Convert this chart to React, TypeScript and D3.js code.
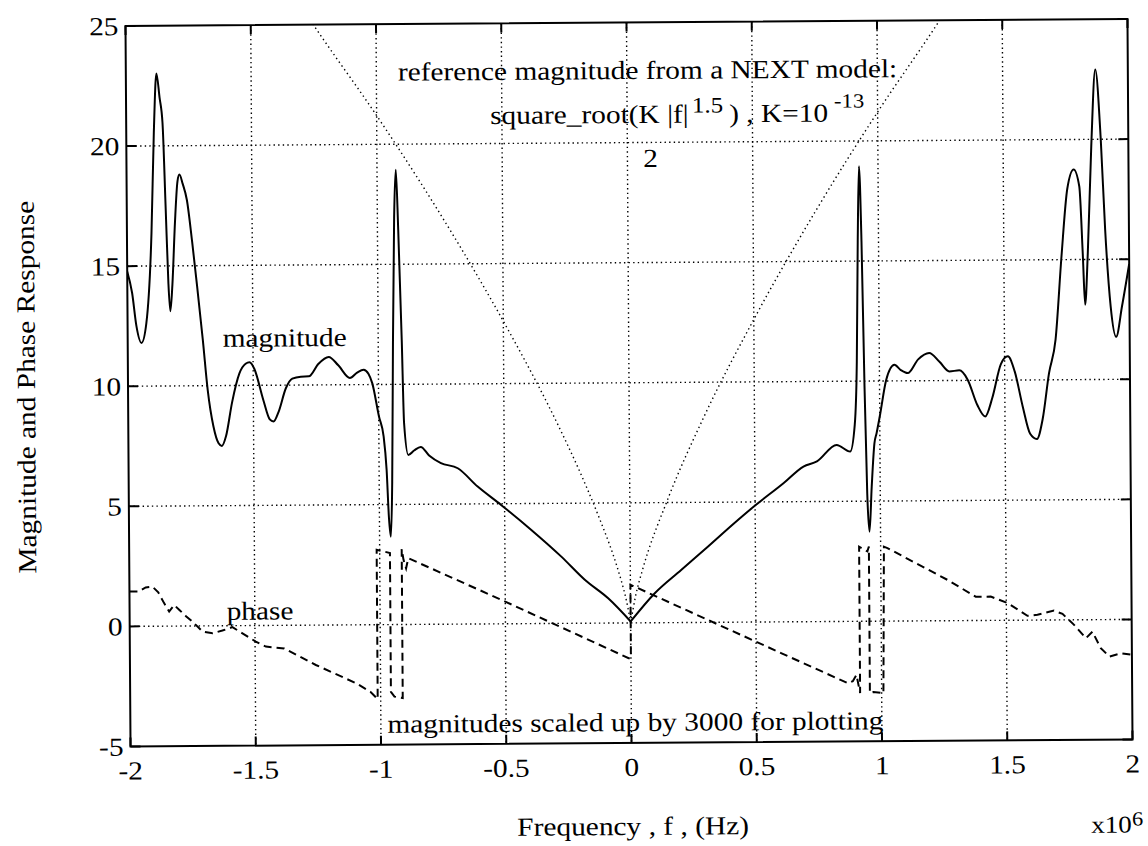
import React from "react";
import * as d3 from "d3";

// frequency axis in units of 1e6 Hz
const magF = [
  -2.0, -1.981, -1.965, -1.945, -1.925, -1.902, -1.89, -1.878, -1.866, -1.855, -1.845, -1.836, -1.829,
  -1.82, -1.808, -1.797, -1.789, -1.776, -1.76, -1.74, -1.72, -1.7, -1.682, -1.66, -1.64, -1.627, -1.61,
  -1.585, -1.555, -1.53, -1.514, -1.495, -1.46, -1.435, -1.42, -1.4, -1.37, -1.344, -1.31, -1.278, -1.24,
  -1.198, -1.16, -1.114, -1.085, -1.059, -1.04, -1.025, -0.999, -0.981, -0.97, -0.962, -0.955, -0.948,
  -0.941, -0.933, -0.925, -0.917, -0.906, -0.899, -0.883, -0.86, -0.833, -0.8, -0.753, -0.686, -0.607,
  -0.514, -0.394, -0.275, -0.182, -0.089, 0.0, 0.097, 0.203, 0.31, 0.416, 0.495, 0.615, 0.694, 0.748,
  0.827, 0.881, 0.9, 0.91, 0.917, 0.924, 0.932, 0.94, 0.948, 0.956, 0.966, 0.978, 0.987, 1.0, 1.027,
  1.06, 1.085, 1.113, 1.155, 1.199, 1.24, 1.279, 1.319, 1.352, 1.39, 1.421, 1.45, 1.485, 1.513, 1.54,
  1.571, 1.6, 1.627, 1.65, 1.677, 1.704, 1.73, 1.755, 1.781, 1.803, 1.815, 1.823, 1.835, 1.852, 1.87,
  1.89, 1.905, 1.925, 1.946, 1.97, 2.0,
];
const magV = [
  14.78, 13.88, 12.52, 11.8, 12.62, 16.38, 20.52, 23.01, 22.01, 20.96, 17.51, 14.31, 13.11,
  14.21, 16.81, 18.51, 18.8, 18.41, 17.75, 16.0, 14.0, 11.9, 9.83, 8.3, 7.6, 7.49, 7.9,
  9.3, 10.5, 10.9, 10.96, 10.68, 9.38, 8.58, 8.49, 8.88, 9.87, 10.27, 10.35, 10.36, 10.87,
  11.16, 10.81, 10.28, 10.5, 10.62, 10.45, 10.06, 8.67, 7.84, 6.45, 4.45, 3.66, 5.94,
  11.84, 16.94, 18.94, 16.44, 11.84, 8.39, 7.06, 7.24, 7.39, 7.03, 6.71, 6.49, 5.72,
  4.95, 3.9, 2.78, 1.81, 1.03, 0.06, 1.23, 2.19, 3.15, 4.12, 4.81, 5.78, 6.46, 6.67,
  7.35, 7.07, 8.18, 10.81, 15.81, 18.95, 15.81, 9.81, 5.31, 3.73, 5.6, 7.4, 7.83, 8.52, 10.05,
  10.67, 10.45, 10.32, 10.89, 11.15, 10.78, 10.38, 10.42, 10.03, 8.97, 8.49, 9.27, 10.67, 10.99, 10.36,
  8.9, 7.76, 7.54, 8.35, 10.28, 11.67, 15.14, 17.95, 18.75, 18.04, 15.24, 13.12, 15.24, 19.74, 22.91,
  19.99, 16.24, 13.03, 11.77, 13.03, 14.8,
];

const phaseF = [
  -2.0, -1.962, -1.935, -1.908, -1.885, -1.862, -1.842, -1.822, -1.8, -1.775, -1.749, -1.709, -1.669,
  -1.63, -1.59, -1.55, -1.497, -1.457, -1.384, -1.258, -1.098, -1.04, -1.012, -1.012, -0.959, -0.959,
  -0.945, -0.912, -0.912, -0.905, -0.895, -0.886, -0.514, -0.009, 0.0, 0.0, 0.6016, 0.867, 0.885, 0.9,
  0.914, 0.914, 0.947, 0.953, 0.953, 0.967, 1.007, 1.013, 1.027, 1.266, 1.378, 1.438, 1.505, 1.584,
  1.624, 1.69, 1.724, 1.77, 1.817, 1.843, 1.876, 1.91, 1.956, 2.0,
];
const phaseV = [
  1.45, 1.45, 1.62, 1.65, 1.41, 0.96, 0.61, 0.88, 0.66, 0.41, 0.18, -0.24, -0.31,
  -0.2, -0.06, -0.32, -0.67, -0.88, -0.96, -1.66, -2.43, -2.8, -3.1, 3.12, 2.98, -2.8,
  -3.0, -3.06, 3.14, 2.69, 2.34, 2.76, 0.99, -1.47, -1.47, 1.59, -1.31, -2.58, -2.49, -2.23,
  -2.99, 3.11, 2.91, 3.11, -2.99, -2.95, -3.0, 3.1, 3.04, 1.7, 0.99, 0.99, 0.72, 0.18,
  0.22, 0.39, 0.25, -0.21, -0.77, -0.5, -1.19, -1.54, -1.41, -1.47,
];

// reference magnitude (NEXT model), one branch per sign of f
const refF = [0, 0.02, 0.05, 0.15, 0.3, 0.5, 0.75, 1.0, 1.25, 1.3];
const refV = [0, 1.1, 2.25, 5.1, 8.6, 12.6, 17.1, 21.2, 25.0, 25.8];

const xTicks = [-2, -1.5, -1, -0.5, 0, 0.5, 1, 1.5, 2];
const xTickLabels = ["-2", "-1.5", "-1", "-0.5", "0", "0.5", "1", "1.5", "2"];
const yTicks = [-5, 0, 5, 10, 15, 20, 25];
const yTickLabels = ["-5", "0", "5", "10", "15", "20", "25"];

const W = 1148;
const H = 846;
const L = 128;
const R = 1130;
const T = 22.5;
const B = 743;
const SX = 1.13;
const FONT = "'Liberation Serif', 'Times New Roman', serif";

const Txt = ({ x, y, size = 26, anchor = "start", children }: any) => (
  <text
    transform={`translate(${x},${y}) scale(${SX},1)`}
    fontSize={size}
    textAnchor={anchor}
    fontFamily={FONT}
    fill="#000"
  >
    {children}
  </text>
);

export default function App() {
  const x = d3.scaleLinear().domain([-2, 2]).range([L, R]);
  const y = d3.scaleLinear().domain([-5, 25]).range([B, T]);

  const magPts = magF.map((f, i) => [f, magV[i]] as [number, number]);
  const magLeft = magPts.filter((p) => p[0] <= 0);
  const magRight = magPts.filter((p) => p[0] >= 0);

  const magLine = d3
    .line<[number, number]>()
    .x((d) => x(d[0]))
    .y((d) => y(d[1]))
    .curve(d3.curveMonotoneX);

  const phaseLine = d3
    .line<number>()
    .x((_, i) => x(phaseF[i]))
    .y((d) => y(d));

  const refRight = d3
    .line<number>()
    .x((_, i) => x(refF[i]))
    .y((d) => y(d))
    .curve(d3.curveMonotoneX);
  const refLeft = d3
    .line<number>()
    .x((_, i) => x(-refF[i]))
    .y((d) => y(d))
    .curve(d3.curveMonotoneY);

  const dots = { stroke: "#000", strokeWidth: 1.4, strokeDasharray: "1.4,3.2", fill: "none" };

  return (
    <svg
      width={W}
      height={H}
      style={{ position: "absolute", left: 0, top: 0, background: "#fff" }}
    >
      <defs>
        <clipPath id="plot">
          <rect x={L} y={T} width={R - L} height={B - T} />
        </clipPath>
      </defs>
      <rect width={W} height={H} fill="#fff" />
      <g transform="rotate(-0.4 629 383)">
        {/* grid */}
        {xTicks.slice(1, -1).map((t) => (
          <line key={"gx" + t} x1={x(t)} x2={x(t)} y1={T} y2={B} {...dots} />
        ))}
        {yTicks.slice(1, -1).map((t) => (
          <line key={"gy" + t} x1={L} x2={R} y1={y(t)} y2={y(t)} {...dots} />
        ))}

        {/* reference curve */}
        <g clipPath="url(#plot)">
          <path d={refRight(refV) || ""} {...dots} />
          <path d={refLeft(refV) || ""} {...dots} />
        </g>

        {/* data */}
        <g clipPath="url(#plot)">
          <path d={magLine(magLeft) || ""} fill="none" stroke="#000" strokeWidth={2} strokeLinejoin="round" />
          <path d={magLine(magRight) || ""} fill="none" stroke="#000" strokeWidth={2} strokeLinejoin="round" />
          <path
            d={phaseLine(phaseV) || ""}
            fill="none"
            stroke="#000"
            strokeWidth={2}
            strokeDasharray="8,5"
          />
        </g>

        {/* box and ticks */}
        <rect x={L} y={T} width={R - L} height={B - T} fill="none" stroke="#000" strokeWidth={2} />
        {xTicks.map((t) => (
          <g key={"tx" + t}>
            <line x1={x(t)} x2={x(t)} y1={B} y2={B - 9} stroke="#000" strokeWidth={2} />
            <line x1={x(t)} x2={x(t)} y1={T} y2={T + 9} stroke="#000" strokeWidth={2} />
          </g>
        ))}
        {yTicks.map((t) => (
          <g key={"ty" + t}>
            <line x1={L} x2={L + 10} y1={y(t)} y2={y(t)} stroke="#000" strokeWidth={2} />
            <line x1={R} x2={R - 10} y1={y(t)} y2={y(t)} stroke="#000" strokeWidth={2} />
          </g>
        ))}

        {/* tick labels */}
        {xTicks.map((t, i) => (
          <Txt key={"lx" + t} x={x(t)} y={B + 33} anchor="middle">
            {xTickLabels[i]}
          </Txt>
        ))}
        {yTicks.map((t, i) => (
          <Txt key={"ly" + t} x={121} y={y(t) + 9} anchor="end">
            {yTickLabels[i]}
          </Txt>
        ))}

        {/* axis titles */}
        <Txt x={630} y={835} anchor="middle">
          Frequency , f , (Hz)
        </Txt>
        <Txt x={1088} y={836} size={24}>
          x10
        </Txt>
        <Txt x={1129} y={829} size={20}>
          6
        </Txt>
        <text
          transform={`translate(35,383) rotate(-90) scale(${SX},1)`}
          fontSize={26}
          textAnchor="middle"
          fontFamily={FONT}
        >
          Magnitude and Phase Response
        </text>

        {/* annotations */}
        <Txt x={400} y={79}>reference magnitude from a NEXT model:</Txt>
        <Txt x={492} y={123}>square_root(K |f|</Txt>
        <Txt x={694} y={113} size={22}>1.5</Txt>
        <Txt x={731} y={123}>) , K=10</Txt>
        <Txt x={836} y={109} size={20}>-13</Txt>
        <Txt x={652} y={167} anchor="middle">2</Txt>
        <Txt x={223} y={344}>magnitude</Txt>
        <Txt x={225} y={617}>phase</Txt>
        <Txt x={385} y={731}>magnitudes scaled up by 3000 for plotting</Txt>
      </g>
    </svg>
  );
}
